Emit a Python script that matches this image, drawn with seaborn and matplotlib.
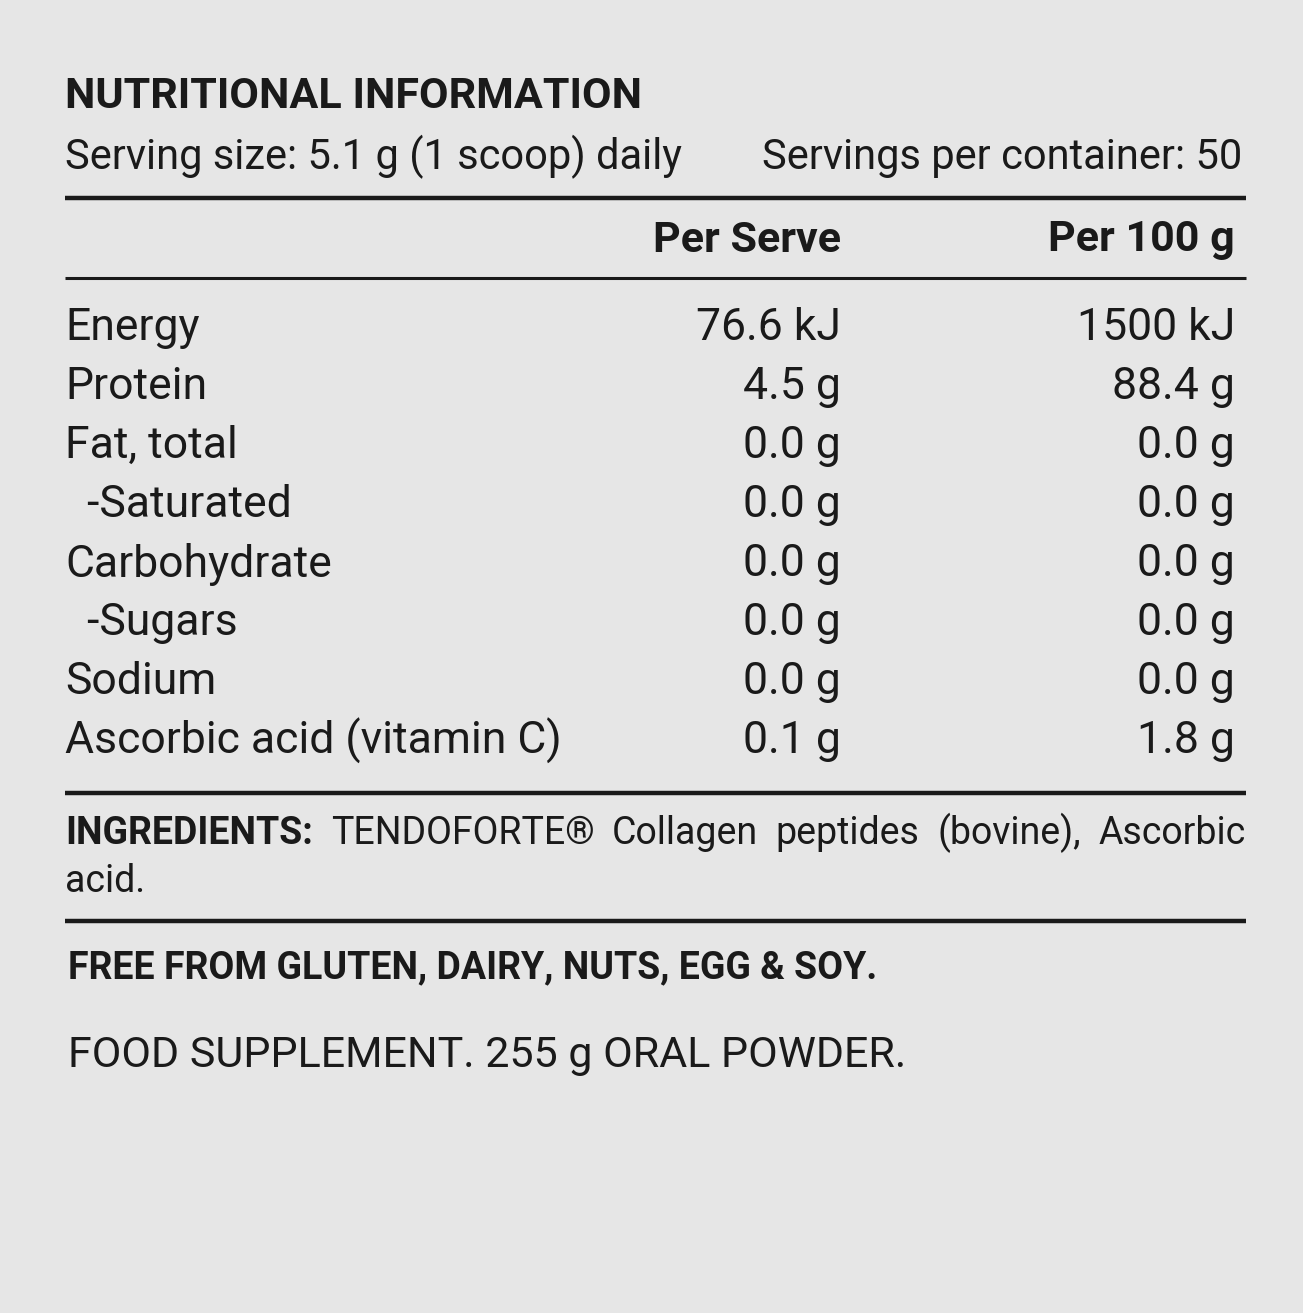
import seaborn as sns
import matplotlib.pyplot as plt
from matplotlib import font_manager

sns.set_theme(style="white")
names = {f.name for f in font_manager.fontManager.ttflist}
FONT = "Liberation Sans Narrow" if "Liberation Sans Narrow" in names else "Roboto"
plt.rcParams['font.family'] = [FONT, 'DejaVu Sans']

title = "NUTRITIONAL INFORMATION"
serving_size = "Serving size: 5.1 g (1 scoop) daily"
servings_per = "Servings per container: 50"
col_headers = ["Per Serve", "Per 100 g"]
nutrients = ["Energy", "Protein", "Fat, total", "  -Saturated", "Carbohydrate",
             "  -Sugars", "Sodium", "Ascorbic acid (vitamin C)"]
per_serve = ["76.6 kJ", "4.5 g", "0.0 g", "0.0 g", "0.0 g", "0.0 g", "0.0 g", "0.1 g"]
per_100g = ["1500 kJ", "88.4 g", "0.0 g", "0.0 g", "0.0 g", "0.0 g", "0.0 g", "1.8 g"]
ingredients = "TENDOFORTE® Collagen peptides (bovine), Ascorbic"
ingredients_2 = "acid."
free_from = "FREE FROM GLUTEN, DAIRY, NUTS, EGG & SOY."
footer = "FOOD SUPPLEMENT. 255 g ORAL POWDER."

BG = "#e6e6e6"
INK = "#1a1a1a"
fig = plt.figure(figsize=(13.03, 13.13), dpi=100, facecolor=BG)
ax = fig.add_axes([0, 0, 1, 1])
ax.set_facecolor(BG)
ax.set_xlim(0, 1303)
ax.set_ylim(1313, 0)
ax.axis("off")

L, R = 65, 1246
C1, C2 = 841, 1235
big = 32
mid = 27

ax.text(L, 97, title, fontsize=31, weight="bold", color=INK, va="center")
ax.text(L, 157, serving_size, fontsize=30, color=INK, va="center")
ax.text(1242, 157, servings_per, fontsize=30, color=INK, va="center", ha="right")
for y, lw in [(198, 3.2), (278, 2.2), (793, 3.2), (921, 3.2)]:
    ax.plot([L, R], [y, y], color=INK, lw=lw, solid_capstyle="butt")
ax.text(C1, 240, col_headers[0], fontsize=31, weight="bold", color=INK, va="center", ha="right")
ax.text(C2, 240, col_headers[1], fontsize=31, weight="bold", color=INK, va="center", ha="right")

for i, (n, a, b) in enumerate(zip(nutrients, per_serve, per_100g)):
    y = 328 + 59 * i
    ax.text(L, y, n, fontsize=big, color=INK, va="center")
    ax.text(C1, y, a, fontsize=big, color=INK, va="center", ha="right")
    ax.text(C2, y, b, fontsize=big, color=INK, va="center", ha="right")

# justified ingredients line
fig.canvas.draw()
rend = fig.canvas.get_renderer()
inv = ax.transData.inverted()
def width(t):
    bb = t.get_window_extent(rend)
    return inv.transform((bb.x1, 0))[0] - inv.transform((bb.x0, 0))[0]
words = [("INGREDIENTS:", "bold")] + [(w, "normal") for w in ingredients.split()]
arts = [ax.text(0, 833, w, fontsize=mid, weight=wt, color=INK, va="center") for w, wt in words]
ws = [width(a) for a in arts]
gap = (R - L - sum(ws)) / (len(ws) - 1)
x = L
for a, w in zip(arts, ws):
    a.set_x(x)
    x += w + gap
ax.text(L, 882, ingredients_2, fontsize=mid, color=INK, va="center")

ax.text(68, 968, free_from, fontsize=mid, weight="bold", color=INK, va="center")
ax.text(68, 1056, footer, fontsize=31, color=INK, va="center")

fig.savefig("out.png", dpi=100, facecolor=BG)
